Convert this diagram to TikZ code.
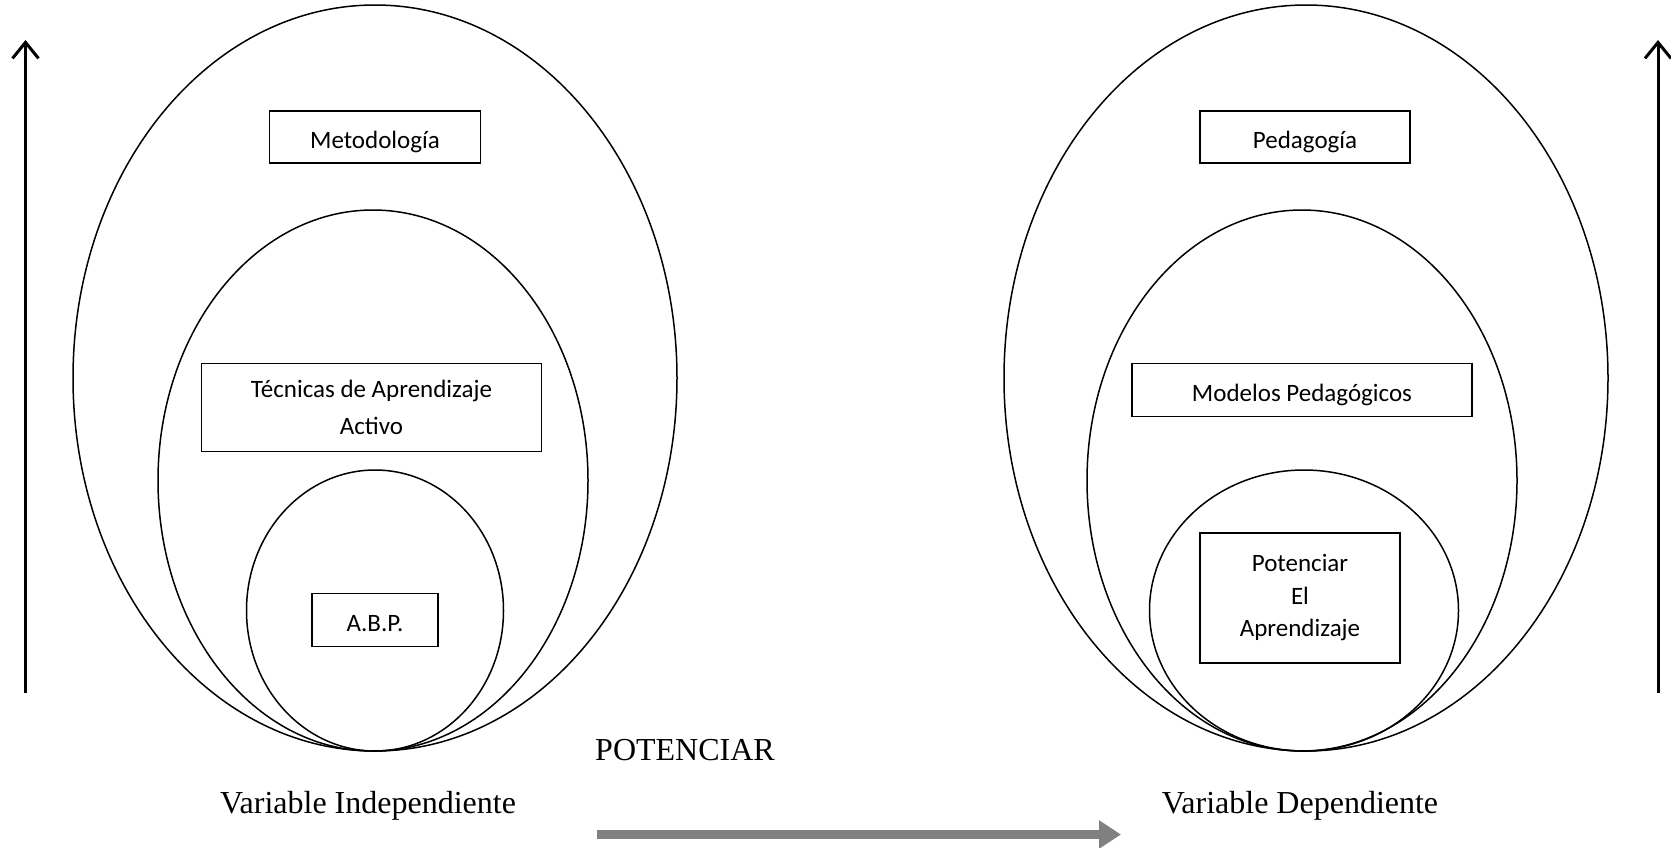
\documentclass[tikz,border=0pt]{standalone}
\usepackage{fontspec}
\setmainfont{Liberation Serif}
\newfontfamily\calibri{Carlito}
\usetikzlibrary{arrows.meta}
\definecolor{arrowGray}{RGB}{128, 128, 128}

\begin{document}
\begin{tikzpicture}[x=1pt, y=-1pt]
    \tikzstyle{ring} = [draw=black, line width=1.5pt]
    \tikzstyle{concept} = [draw=black, line width=1.5pt, font=\calibri\fontsize{25}{37}\selectfont, align=center, inner sep=0pt]
    \tikzstyle{oneline} = [concept, text height=29pt, text depth=6pt]
    \tikzstyle{caption} = [font=\fontsize{32}{38}\selectfont, inner sep=0pt]
    \tikzstyle{axis} = [-{Straight Barb[length=16pt, width=26pt, line width=3pt]}, line width=3pt, black]
    \useasboundingbox (0,0) rectangle (1671,847);

    % Independent variable
    \draw[ring] (375,378) ellipse [x radius=302, y radius=373];
    \draw[ring] (373,480.5) ellipse [x radius=215, y radius=270.5];
    \draw[ring] (375,610.5) ellipse [x radius=128.5, y radius=140.5];
    \node[oneline, minimum width=211pt, minimum height=52pt] (met) at (375,137) {Metodología};
    \node[concept, minimum width=340pt, minimum height=88pt] (tec) at (371.5,407.5) {\raisebox{-3pt}{Técnicas de Aprendizaje}\\\raisebox{-3pt}{Activo}};
    \node[oneline, minimum width=126pt, minimum height=53pt] (abp) at (375,620) {A.B.P.};

    % Dependent variable
    \draw[ring] (1306,378) ellipse [x radius=302, y radius=373];
    \draw[ring] (1302,480.5) ellipse [x radius=215, y radius=270.5];
    \draw[ring] (1304,610.5) ellipse [x radius=154.5, y radius=140.5];
    \node[oneline, minimum width=210pt, minimum height=52pt] (ped) at (1305,137) {Pedagogía};
    \node[oneline, minimum width=340pt, minimum height=53pt] (mod) at (1302,390) {Modelos Pedagógicos};
    \node[concept, minimum width=200pt, minimum height=130pt, font=\calibri\fontsize{25}{32.5}\selectfont] (pot) at (1300,598) {Potenciar\\El\\Aprendizaje};

    % Arrows
    \coordinate (l0) at (25.5,693);
    \coordinate (l1) at (25.5,40);
    \coordinate (r0) at (1658,693);
    \coordinate (r1) at (1658,40);
    \coordinate (g0) at (597,834.5);
    \coordinate (g1) at (1121,834.5);
    \draw[axis] (l0) -- (l1);
    \draw[axis] (r0) -- (r1);
    \draw[-{Triangle[length=22pt, width=27pt]}, line width=8.5pt, arrowGray] (g0) -- (g1);

    % Labels
    \node[caption] (potenciar) at (685,750) {POTENCIAR};
    \node[caption] (vi) at (368,806) {Variable Independiente};
    \node[caption] (vd) at (1300,806) {Variable Dependiente};
\end{tikzpicture}
\end{document}
